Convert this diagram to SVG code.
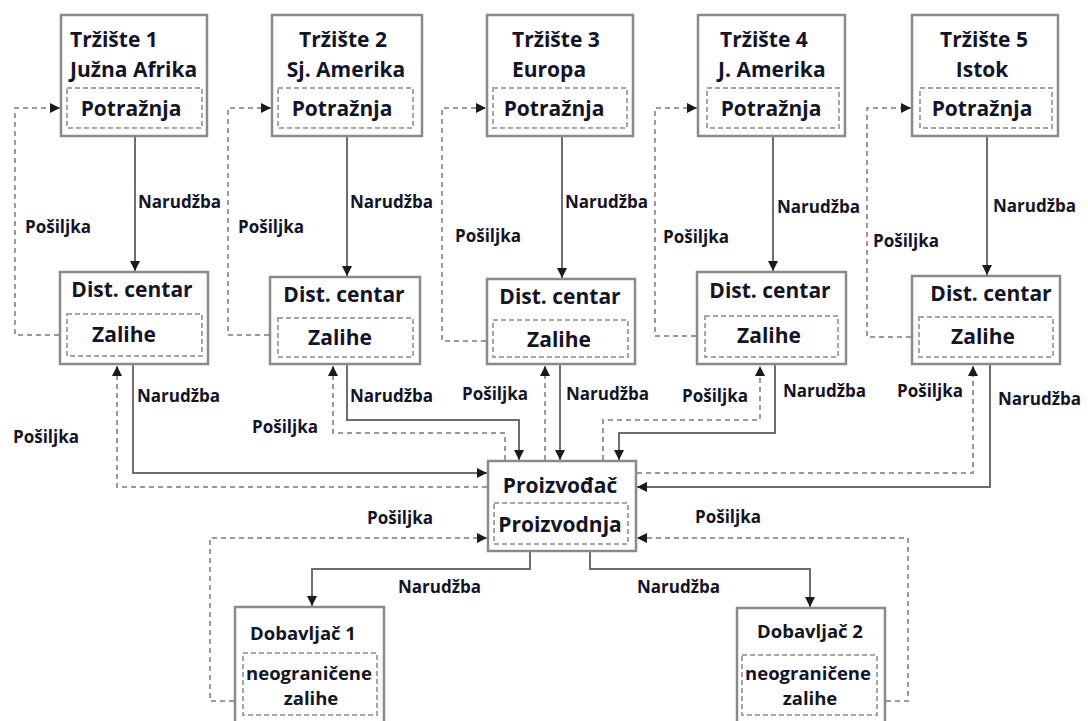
<svg xmlns="http://www.w3.org/2000/svg" width="1088" height="721" viewBox="0 0 1088 721">
<style>
.box{fill:#fff;stroke:#8a8a8a;stroke-width:2.5}
.in{fill:none;stroke:#a6a6a6;stroke-width:2;stroke-dasharray:5 3}
.t{font-family:"Open Sans","Liberation Sans",sans-serif;font-weight:700;font-size:21px;fill:#141428}
.m{text-anchor:middle}
.sm{font-size:18.5px}
.l{font-family:"Open Sans","Liberation Sans",sans-serif;font-weight:700;font-size:17px;fill:#141428}
.s{fill:none;stroke:#6e6e6e;stroke-width:2}
.d{fill:none;stroke:#9a9a9a;stroke-width:2;stroke-dasharray:5 4}
</style>
<defs>
<marker id="a" viewBox="0 0 10 10" refX="10" refY="5" markerWidth="11" markerHeight="10" markerUnits="userSpaceOnUse" orient="auto">
<path d="M0,0 L10,5 L0,10 Z" fill="#1a1a1a"/>
</marker>
</defs>
<rect width="1088" height="721" fill="#fff"/>

<g id="connectors">
<path class="s" d="M135,137 V271" marker-end="url(#a)"/>
<path class="s" d="M347,137 V276" marker-end="url(#a)"/>
<path class="s" d="M562,137 V278" marker-end="url(#a)"/>
<path class="s" d="M773,137 V271" marker-end="url(#a)"/>
<path class="s" d="M987,137 V275" marker-end="url(#a)"/>
<path class="d" d="M59,335 H15 V108 H60" marker-end="url(#a)"/>
<path class="d" d="M269,335 H228 V108 H271" marker-end="url(#a)"/>
<path class="d" d="M486,341 H442 V108 H486" marker-end="url(#a)"/>
<path class="d" d="M696,336 H655 V108 H697" marker-end="url(#a)"/>
<path class="d" d="M911,337 H867 V108 H911" marker-end="url(#a)"/>
<path class="s" d="M133,365 V473 H487" marker-end="url(#a)"/>
<path class="d" d="M487,487 H117 V366" marker-end="url(#a)"/>
<path class="d" d="M505,460 V433 H333 V366" marker-end="url(#a)"/>
<path class="s" d="M347,365 V420 H519 V460" marker-end="url(#a)"/>
<path class="d" d="M545,460 V366" marker-end="url(#a)"/>
<path class="s" d="M560,365 V460" marker-end="url(#a)"/>
<path class="d" d="M603,460 V420 H760 V366" marker-end="url(#a)"/>
<path class="s" d="M775,365 V433 H619 V460" marker-end="url(#a)"/>
<path class="d" d="M637,473 H973 V366" marker-end="url(#a)"/>
<path class="s" d="M990,365 V487 H637" marker-end="url(#a)"/>
<path class="s" d="M530,552 V569 H312 V606" marker-end="url(#a)"/>
<path class="s" d="M590,552 V569 H810 V607" marker-end="url(#a)"/>
<path class="d" d="M234,701 H210 V538 H487" marker-end="url(#a)"/>
<path class="d" d="M886,701 H908 V538 H637" marker-end="url(#a)"/>
<text class="l" x="138" y="208">Narudžba</text>
<text class="l" x="350" y="208">Narudžba</text>
<text class="l" x="565" y="208">Narudžba</text>
<text class="l" x="777" y="213">Narudžba</text>
<text class="l" x="993" y="212">Narudžba</text>
<text class="l" x="25" y="233">Pošiljka</text>
<text class="l" x="238" y="233">Pošiljka</text>
<text class="l" x="455" y="242">Pošiljka</text>
<text class="l" x="663" y="243">Pošiljka</text>
<text class="l" x="873" y="247">Pošiljka</text>
<text class="l" x="137" y="402">Narudžba</text>
<text class="l" x="13" y="443">Pošiljka</text>
<text class="l" x="252" y="433">Pošiljka</text>
<text class="l" x="350" y="402">Narudžba</text>
<text class="l" x="462" y="400">Pošiljka</text>
<text class="l" x="566" y="400">Narudžba</text>
<text class="l" x="682" y="402">Pošiljka</text>
<text class="l" x="783" y="397">Narudžba</text>
<text class="l" x="897" y="397">Pošiljka</text>
<text class="l" x="998" y="405">Narudžba</text>
<text class="l" x="367" y="524">Pošiljka</text>
<text class="l" x="695" y="523">Pošiljka</text>
<text class="l" x="398" y="593">Narudžba</text>
<text class="l" x="637" y="593">Narudžba</text>
</g>

<g id="trziste1">
<rect class="box" x="61" y="15" width="146" height="121"/>
<rect class="in" x="67" y="88" width="135" height="40"/>
<text class="t" x="70" y="47">Tržište 1</text>
<text class="t" x="70" y="77">Južna Afrika</text>
<text class="t m" x="131" y="116">Potražnja</text>
</g>
<g id="trziste2">
<rect class="box" x="272" y="15" width="150" height="121"/>
<rect class="in" x="278" y="88" width="135" height="40"/>
<text class="t m" x="343" y="47">Tržište 2</text>
<text class="t m" x="346" y="77">Sj. Amerika</text>
<text class="t m" x="342" y="116">Potražnja</text>
</g>
<g id="trziste3">
<rect class="box" x="487" y="15" width="146" height="121"/>
<rect class="in" x="493" y="88" width="134" height="40"/>
<text class="t" x="512" y="47">Tržište 3</text>
<text class="t" x="512" y="77">Europa</text>
<text class="t m" x="554" y="116">Potražnja</text>
</g>
<g id="trziste4">
<rect class="box" x="698" y="15" width="147" height="121"/>
<rect class="in" x="707" y="88" width="132" height="40"/>
<text class="t" x="720" y="47">Tržište 4</text>
<text class="t" x="718" y="77">J. Amerika</text>
<text class="t m" x="771" y="116">Potražnja</text>
</g>
<g id="trziste5">
<rect class="box" x="912" y="15" width="146" height="121"/>
<rect class="in" x="920" y="88" width="132" height="40"/>
<text class="t m" x="984" y="47">Tržište 5</text>
<text class="t m" x="982" y="77">Istok</text>
<text class="t m" x="982" y="116">Potražnja</text>
</g>

<g id="dist1">
<rect class="box" x="60" y="272" width="148" height="92"/>
<rect class="in" x="67" y="314" width="135" height="42"/>
<text class="t m" x="132" y="297">Dist. centar</text>
<text class="t m" x="124" y="342">Zalihe</text>
</g>
<g id="dist2">
<rect class="box" x="270" y="277" width="150" height="87"/>
<rect class="in" x="278" y="318" width="135" height="39"/>
<text class="t m" x="344" y="302">Dist. centar</text>
<text class="t m" x="340" y="345">Zalihe</text>
</g>
<g id="dist3">
<rect class="box" x="487" y="279" width="148" height="85"/>
<rect class="in" x="493" y="320" width="135" height="37"/>
<text class="t m" x="560" y="304">Dist. centar</text>
<text class="t m" x="559" y="347">Zalihe</text>
</g>
<g id="dist4">
<rect class="box" x="697" y="272" width="149" height="92"/>
<rect class="in" x="705" y="316" width="133" height="41"/>
<text class="t m" x="770" y="298">Dist. centar</text>
<text class="t m" x="769" y="343">Zalihe</text>
</g>
<g id="dist5">
<rect class="box" x="912" y="276" width="148" height="88"/>
<rect class="in" x="919" y="317" width="134" height="40"/>
<text class="t m" x="991" y="301">Dist. centar</text>
<text class="t m" x="983" y="344">Zalihe</text>
</g>

<g id="proizvodjac">
<rect class="box" x="488" y="461" width="148" height="90"/>
<rect class="in" x="494" y="503" width="134" height="41"/>
<text class="t m" x="560" y="493">Proizvođač</text>
<text class="t m" x="560" y="532">Proizvodnja</text>
</g>

<g id="dobavljac1">
<rect class="box" x="235" y="607" width="149" height="130"/>
<rect class="in" x="243" y="653" width="134" height="62"/>
<text class="t m sm" x="303" y="640">Dobavljač 1</text>
<text class="t m sm" x="309" y="680">neograničene</text>
<text class="t m sm" x="311" y="705">zalihe</text>
</g>
<g id="dobavljac2">
<rect class="box" x="737" y="608" width="148" height="130"/>
<rect class="in" x="742" y="655" width="135" height="60"/>
<text class="t m sm" x="810" y="638">Dobavljač 2</text>
<text class="t m sm" x="808" y="680">neograničene</text>
<text class="t m sm" x="810" y="705">zalihe</text>
</g>
</svg>
